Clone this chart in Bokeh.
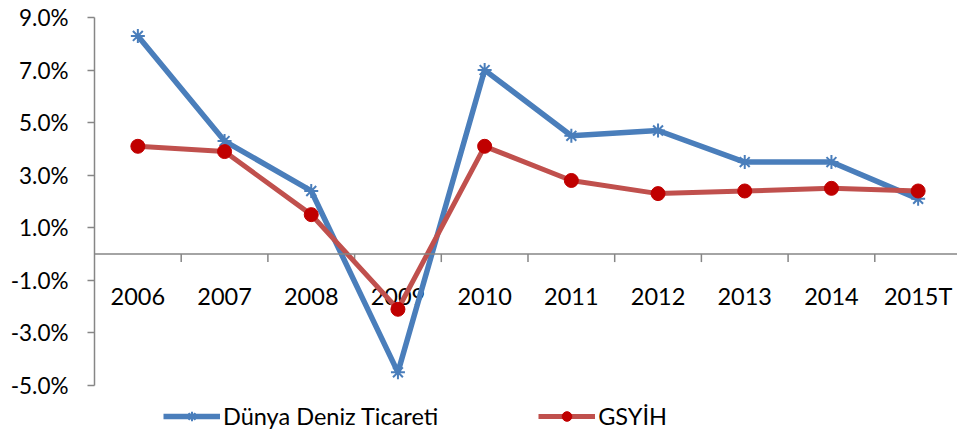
from bokeh.plotting import figure
from bokeh.models import FixedTicker, Legend, LegendItem, Range1d, Span, CustomJSTickFormatter
from bokeh.core.properties import value
from bokeh.embed import file_html
from bokeh.resources import INLINE

years = ["2006", "2007", "2008", "2009", "2010", "2011", "2012", "2013", "2014", "2015T"]
trade = [8.3, 4.3, 2.4, -4.5, 7.0, 4.5, 4.7, 3.5, 3.5, 2.1]
gdp = [4.1, 3.9, 1.5, -2.1, 4.1, 2.8, 2.3, 2.4, 2.5, 2.4]
y_ticks = [-5, -3, -1, 1, 3, 5, 7, 9]
series_names = ["Dünya Deniz Ticareti", "GSYİH"]

x = list(range(len(years)))
AX = "#868686"
PX_PER_UNIT = 368 / 14.0
LEGEND_PX = 49

p = figure(width=957, height=434, output_backend="svg", toolbar_location=None,
           x_range=Range1d(-0.5, 9.454),
           y_range=Range1d(y_ticks[0] - LEGEND_PX / PX_PER_UNIT, y_ticks[-1]),
           x_axis_location=None,
           min_border_left=94, min_border_right=0, min_border_top=17, min_border_bottom=0)
p.outline_line_color = None
p.xgrid.visible = False
p.ygrid.visible = False

# y axis
ya = p.yaxis[0]
ya.ticker = FixedTicker(ticks=y_ticks)
ya.bounds = (y_ticks[0], y_ticks[-1])
ya.formatter = CustomJSTickFormatter(code="return tick.toFixed(1) + '%';")
ya.axis_line_color = AX
ya.axis_line_width = 1.5
ya.major_tick_line_color = AX
ya.major_tick_line_width = 1.5
ya.major_tick_out = 7
ya.major_tick_in = 0
ya.minor_tick_line_color = None
ya.major_label_text_font = "Lato"
ya.major_label_text_font_size = "22.5px"
ya.major_label_text_color = "black"
ya.major_label_standoff = 19

# category axis drawn at zero
p.add_layout(Span(location=0, dimension="width", line_color=AX, line_width=1.5))
bounds = [i + 0.5 for i in x]
tick_len = 8 / PX_PER_UNIT
p.segment(x0=bounds, x1=bounds, y0=[0] * len(bounds), y1=[-tick_len] * len(bounds),
          line_color=AX, line_width=1.5)
p.text(x=x, y=[0] * len(x), text=years, text_font=value("Lato"), text_font_size="23.5px",
       text_color="black", text_align="center", text_baseline="alphabetic", y_offset=42)

BLUE = "#4A7EBB"
RED_L = "#C0504D"
RED_M = "#C00000"

l1 = p.line(x, trade, line_color=BLUE, line_width=5.5)
s1 = p.scatter(x, trade, marker="asterisk", size=14, line_color=BLUE, line_width=2)
l2 = p.line(x, gdp, line_color=RED_L, line_width=5)
s2 = p.scatter(x, gdp, marker="circle", size=14, fill_color=RED_M, line_color=RED_M)

legend = Legend(items=[LegendItem(label=series_names[0], renderers=[l1, s1]),
                       LegendItem(label=series_names[1], renderers=[l2, s2])],
                orientation="horizontal", location=(69, 4),
                border_line_color=None, background_fill_alpha=0,
                glyph_width=57, glyph_height=24, label_standoff=3, spacing=100,
                padding=0, margin=0,
                label_text_font="Lato", label_text_font_size="23.5px", label_text_color="black")
p.add_layout(legend, "center")

open("out.html", "w").write(file_html(p, INLINE))
